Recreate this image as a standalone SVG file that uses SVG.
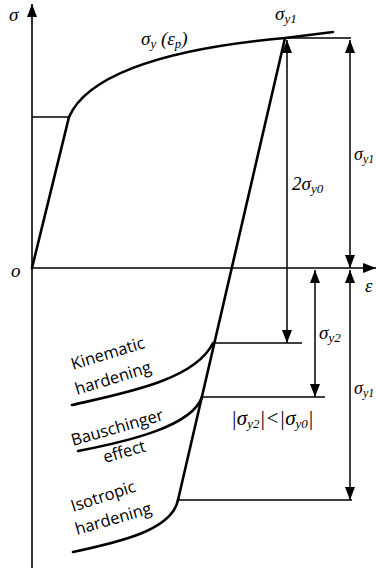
<svg xmlns="http://www.w3.org/2000/svg" width="376" height="568" viewBox="0 0 376 568">
<style>
.ax{stroke:#000;stroke-width:1.6;fill:none}
.thin{stroke:#000;stroke-width:1.5;fill:none}
.thick{stroke:#000;stroke-width:2.6;fill:none;stroke-linecap:round}
.m{font-family:"Liberation Serif","Times New Roman",serif;font-style:italic;font-size:19px;fill:#000}
.s{font-size:13px}
.big{font-size:21px}
.edge{font-size:18px}
.es{font-size:12px}
.lab{font-family:"Open Sans","Liberation Sans",sans-serif;font-size:16.5px;fill:#000}
</style>
<defs>
<marker id="ah" viewBox="0 0 13 10" refX="13" refY="5" markerWidth="13" markerHeight="10" markerUnits="userSpaceOnUse" orient="auto-start-reverse">
<path d="M0,0 L13,5 L0,10 z" fill="#000"/>
</marker>
</defs>
<g id="axes">
<line class="ax" x1="32" y1="568" x2="32" y2="4" marker-end="url(#ah)"/>
<line class="ax" x1="32" y1="268" x2="376" y2="268" marker-end="url(#ah)"/>
<text class="m" x="9" y="21">σ</text>
<text class="m" x="11" y="277">o</text>
<text class="m" x="365" y="292">ε</text>
</g>
<g id="curves">
<line class="thick" x1="32" y1="268" x2="69" y2="117"/>
<path class="thick" d="M69,117 C85,80 150,50 285,38 L333,32"/>
<line class="thick" x1="285" y1="38" x2="178" y2="500"/>
<path class="thick" d="M72,405 C125,393 195,380 213,343"/>
<path class="thick" d="M78,451 C130,441 192,426 202,397"/>
<path class="thick" d="M73,552 C120,542 172,530 178,500"/>
</g>
<g id="levels">
<line class="thin" x1="32" y1="117" x2="69" y2="117"/>
<line class="thin" x1="285" y1="38" x2="351" y2="38"/>
<line class="thin" x1="213" y1="343" x2="302" y2="343"/>
<line class="thin" x1="202" y1="397" x2="325" y2="397"/>
<line class="thin" x1="178" y1="500" x2="352" y2="500"/>
</g>
<g id="connectors">
<line class="thin" x1="287" y1="40" x2="287" y2="343" marker-start="url(#ah)" marker-end="url(#ah)"/>
<line class="thin" x1="350" y1="40" x2="350" y2="268" marker-start="url(#ah)" marker-end="url(#ah)"/>
<line class="thin" x1="350" y1="270" x2="350" y2="500" marker-start="url(#ah)" marker-end="url(#ah)"/>
<line class="thin" x1="315" y1="270" x2="315" y2="397" marker-start="url(#ah)" marker-end="url(#ah)"/>
</g>
<g id="labels">
<text class="m" x="275" y="20">σ<tspan class="s" dy="3">y1</tspan></text>
<text class="m" x="141" y="45">σ<tspan class="s" dy="3">y</tspan><tspan dy="-3"> (ε</tspan><tspan class="s" dy="3">p</tspan><tspan dy="-3">)</tspan></text>
<text class="m" x="292" y="190">2σ<tspan class="s" dy="3">y0</tspan></text>
<text class="m edge" x="354" y="160">σ<tspan class="es" dy="3">y1</tspan></text>
<text class="m" x="319" y="339">σ<tspan class="s" dy="3">y2</tspan></text>
<text class="m edge" x="354" y="394">σ<tspan class="es" dy="3">y1</tspan></text>
<text class="m big" x="231" y="425">|σ<tspan class="s" dy="3">y2</tspan><tspan dy="-3">|&lt;|σ</tspan><tspan class="s" dy="3">y0</tspan><tspan dy="-3">|</tspan></text>
</g>
<g id="Kinematic">
<text class="lab" transform="translate(73,370) rotate(-17)">Kinematic</text>
<text class="lab" transform="translate(77,395) rotate(-17)">hardening</text>
</g>
<g id="Bauschinger">
<text class="lab" transform="translate(73,446) rotate(-16)">Bauschinger</text>
<text class="lab" transform="translate(105,463) rotate(-16)">effect</text>
</g>
<g id="Isotropic">
<text class="lab" transform="translate(73,512) rotate(-18)">Isotropic</text>
<text class="lab" transform="translate(77,535) rotate(-16)">hardening</text>
</g>
</svg>
